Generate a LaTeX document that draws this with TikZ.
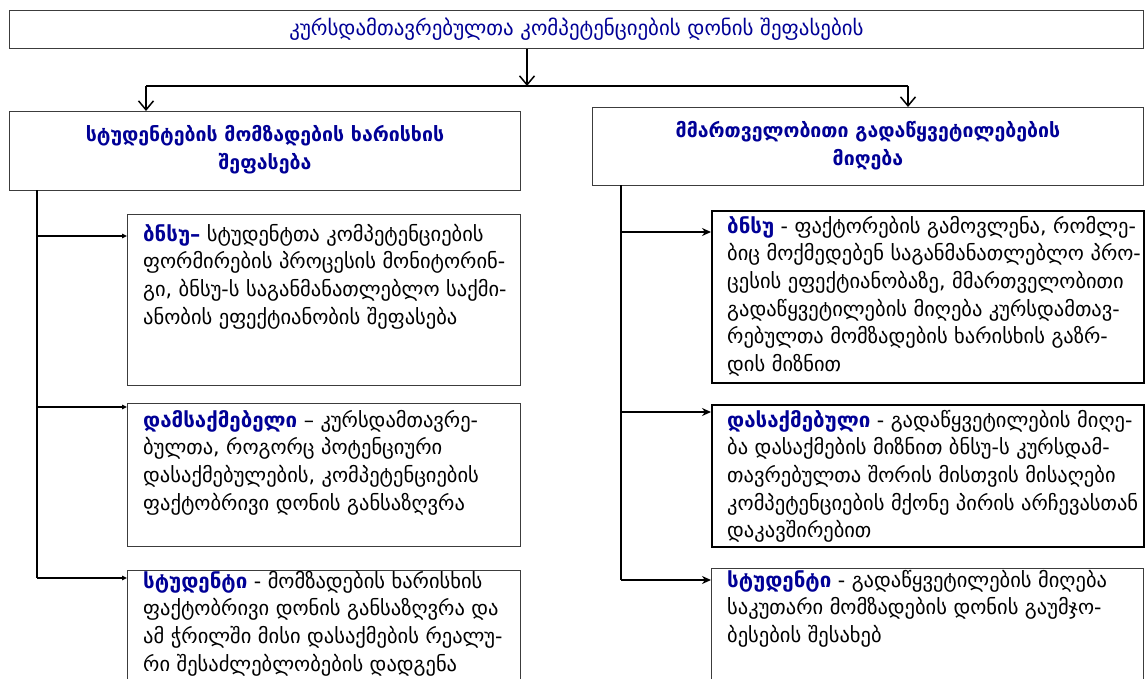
\documentclass[tikz,border=0pt]{standalone}
\usepackage{fontspec}
\setmainfont{DejaVu Sans}
\usetikzlibrary{arrows.meta}
\definecolor{kwblue}{RGB}{0,0,150}
\definecolor{boxgray}{RGB}{60,60,60}
\newcommand{\kw}[1]{\textbf{\textcolor{kwblue}{#1}}}
\newcommand{\firstln}{\rule{0pt}{20pt}}
\tikzset{
  frame/.style={draw=boxgray, line width=1pt, anchor=north west, inner sep=0pt},
  heavyframe/.style={draw=black, line width=1.6pt, anchor=north west, inner sep=0pt},
  bodytext/.style={anchor=north west, inner sep=0pt, align=left,
    font=\fontsize{20.5}{27.6}\selectfont},
  headtext/.style={align=center, inner sep=0pt, text=kwblue,
    font=\fontsize{19.5}{27.5}\selectfont\bfseries},
  conn/.style={line width=1.5pt, draw=black},
  vtip/.style={-{Straight Barb[length=9pt,width=15pt,line width=1.5pt]}},
  ltip/.style={-{Triangle[length=5pt,width=4.5pt]}},
  rtip/.style={-{Stealth[length=9pt,width=8pt]}},
}
\begin{document}
\begin{tikzpicture}[x=1pt,y=-1pt]
\useasboundingbox (0,0) rectangle (1147,679);
\clip (0,0) rectangle (1147,679);
\fill[white] (0,0) rectangle (1147,679);
% top box
\node[frame, minimum width=1134pt, minimum height=38pt] (top) at (9,10) {};
\node[text=kwblue, inner sep=0pt, font=\fontsize{20.9}{24}\selectfont] (toptext) at (top.center) {კურსდამთავრებულთა კომპეტენციების დონის შეფასების};
% headers
\node[frame, minimum width=511pt, minimum height=79pt] (hl) at (9,111) {};
\node[headtext] (hltext) at ([yshift=1.5pt]hl.center) {სტუდენტების მომზადების ხარისხის\\შეფასება};
\node[frame, minimum width=551pt, minimum height=78pt] (hr) at (592,107) {};
\node[headtext] (hrtext) at ([yshift=1pt]hr.center) {მმართველობითი გადაწყვეტილებების\\მიღება};
% left sub-boxes
\node[frame, minimum width=393pt, minimum height=171pt] (l1) at (127,214) {};
\node[frame, minimum width=393pt, minimum height=143pt] (l2) at (127,403) {};
\node[frame, minimum width=393pt, minimum height=140pt] (l3) at (127,570) {};
% right sub-boxes
\node[heavyframe, minimum width=432pt, minimum height=172pt] (r1) at (711,210) {};
\node[heavyframe, minimum width=432pt, minimum height=142pt] (r2) at (711,404) {};
\node[frame, minimum width=432pt, minimum height=140pt] (r3) at (711,568) {};
% texts
\node[bodytext] (l1t) at ([shift={(16,7)}]l1.north west) {\firstln\kw{ბნსუ–} სტუდენტთა კომპეტენციების\\ფორმირების პროცესის მონიტორინ-\\გი, ბნსუ-ს საგანმანათლებლო საქმი-\\ანობის ეფექტიანობის შეფასება};
\node[bodytext] (l2t) at ([shift={(16,4)}]l2.north west) {\firstln\kw{დამსაქმებელი} – კურსდამთავრე-\\ბულთა, როგორც პოტენციური\\დასაქმებულების, კომპეტენციების\\ფაქტობრივი დონის განსაზღვრა};
\node[bodytext] (l3t) at ([shift={(16,-2)}]l3.north west) {\firstln\kw{სტუდენტი} - მომზადების ხარისხის\\ფაქტობრივი დონის განსაზღვრა და\\ამ ჭრილში მისი დასაქმების რეალუ-\\რი შესაძლებლობების დადგენა};
\node[bodytext] (r1t) at ([shift={(16,3)}]r1.north west) {\firstln\kw{ბნსუ} - ფაქტორების გამოვლენა, რომლე-\\ბიც მოქმედებენ საგანმანათლებლო პრო-\\ცესის ეფექტიანობაზე, მმართველობითი\\გადაწყვეტილების მიღება კურსდამთავ-\\რებულთა მომზადების ხარისხის გაზრ-\\დის მიზნით};
\node[bodytext] (r2t) at ([shift={(16,3)}]r2.north west) {\firstln\kw{დასაქმებული} - გადაწყვეტილების მიღე-\\ბა დასაქმების მიზნით ბნსუ-ს კურსდამ-\\თავრებულთა შორის მისთვის მისაღები\\კომპეტენციების მქონე პირის არჩევასთან\\დაკავშირებით};
\node[bodytext] (r3t) at ([shift={(16,-1)}]r3.north west) {\firstln\kw{სტუდენტი} - გადაწყვეტილების მიღება\\საკუთარი მომზადების დონის გაუმჯო-\\ბესების შესახებ};
% connectors
\coordinate (hb) at (527,86);
\coordinate (hbl) at (146,86);
\coordinate (hbr) at (908,86);
\draw[conn, vtip] (top.south -| hb) -- (hb);
\draw[conn] (hbl) -- (hbr);
\draw[conn, vtip] (hbl) -- (hl.north -| hbl);
\draw[conn, vtip] (hbr) -- (hr.north -| hbr);
% left trunk
\coordinate (lt0) at (37,190);
\coordinate (lt1) at (37,236);
\coordinate (lt2) at (37,407);
\coordinate (lt3) at (37,578);
\draw[conn] (lt0) -- (lt3);
\draw[conn, ltip] (lt1) -- (l1.west |- lt1);
\draw[conn, ltip] (lt2) -- (l2.west |- lt2);
\draw[conn, ltip] (lt3) -- (l3.west |- lt3);
% right trunk
\coordinate (rt0) at (621,185);
\coordinate (rt1) at (621,232);
\coordinate (rt2) at (621,412);
\coordinate (rt3) at (621,580);
\draw[conn] (rt0) -- (rt3);
\draw[conn, rtip] (rt1) -- (r1.west |- rt1);
\draw[conn, rtip] (rt2) -- (r2.west |- rt2);
\draw[conn, rtip] (rt3) -- (r3.west |- rt3);
\end{tikzpicture}
\end{document}
